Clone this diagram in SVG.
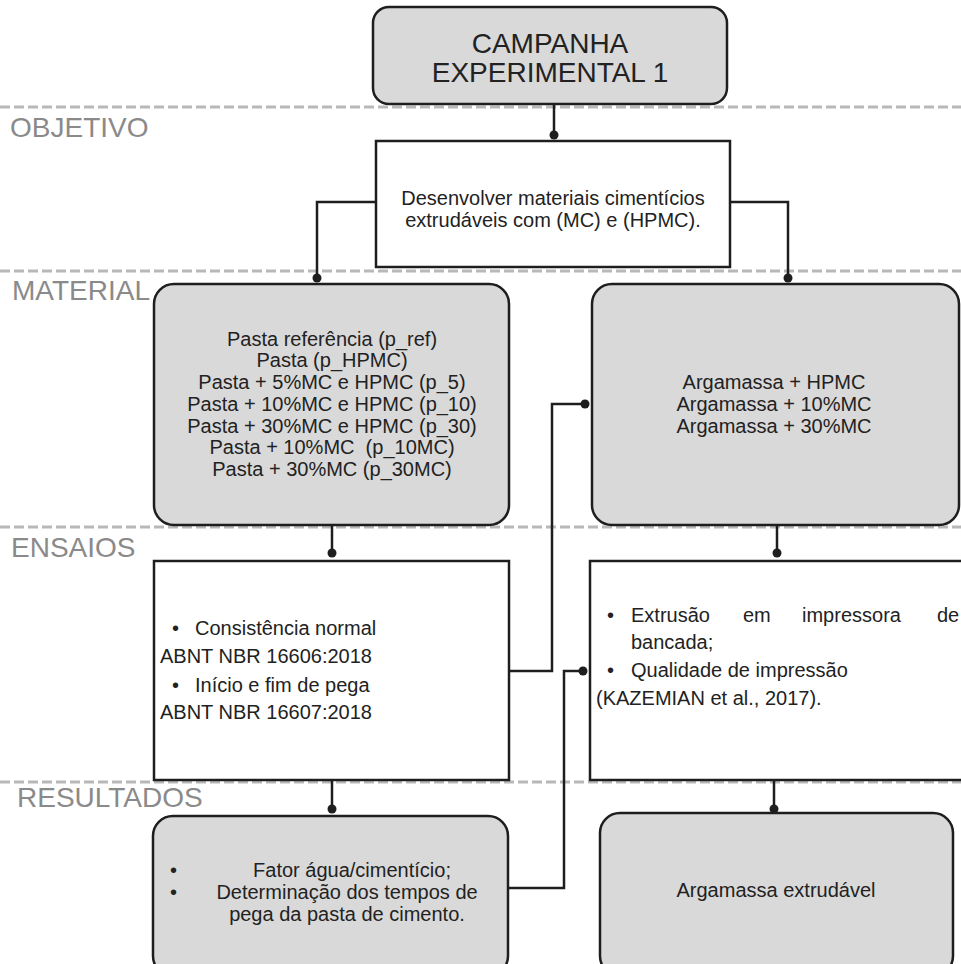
<svg xmlns="http://www.w3.org/2000/svg" width="961" height="964" viewBox="0 0 961 964">
  <style>
    .bg { fill: #ffffff; }
    .sep { stroke: #b8b8b8; stroke-width: 3; stroke-dasharray: 10 4; fill: none; }
    .lane { font-family: "Liberation Sans", Arial, sans-serif; font-size: 28px; fill: #8a8a8a; }
    .grey { fill: #d9d9d9; stroke: #1e1e1e; stroke-width: 2.5; }
    .white { fill: #ffffff; stroke: #1e1e1e; stroke-width: 2.5; }
    .t { font-family: "Liberation Sans", Arial, sans-serif; font-size: 20px; fill: #222222; }
    .title { font-family: "Liberation Sans", Arial, sans-serif; font-size: 28px; fill: #222222; }
    .c { text-anchor: middle; }
    .wire { stroke: #1e1e1e; stroke-width: 2.5; fill: none; }
    .dot { fill: #1e1e1e; }
  </style>

  <rect class="bg" x="0" y="0" width="961" height="964"/>

  <!-- lane separators and lane titles -->
  <g id="lanes">
    <line class="sep" x1="0" y1="107" x2="961" y2="107"/>
    <line class="sep" x1="0" y1="271" x2="961" y2="271"/>
    <line class="sep" x1="0" y1="527" x2="961" y2="527"/>
    <line class="sep" x1="0" y1="782" x2="961" y2="782"/>
    <text class="lane" x="10" y="137">OBJETIVO</text>
    <text class="lane" x="12" y="300">MATERIAL</text>
    <text class="lane" x="11" y="557">ENSAIOS</text>
    <text class="lane" x="17" y="807">RESULTADOS</text>
  </g>

  <!-- connectors -->
  <g id="connectors">
    <path class="wire" d="M554,104 V135"/>
    <circle class="dot" cx="554" cy="135" r="4.5"/>
    <path class="wire" d="M376,202 H317 V278"/>
    <circle class="dot" cx="317" cy="278" r="4.5"/>
    <path class="wire" d="M730,202 H788 V278"/>
    <circle class="dot" cx="788" cy="278" r="4.5"/>
    <path class="wire" d="M332,525 V553"/>
    <circle class="dot" cx="332" cy="553" r="4.5"/>
    <path class="wire" d="M777,525 V553"/>
    <circle class="dot" cx="777" cy="553" r="4.5"/>
    <path class="wire" d="M509,671 H552 V404 H585"/>
    <circle class="dot" cx="585" cy="404" r="4.5"/>
    <path class="wire" d="M508,888 H564 V671 H583"/>
    <circle class="dot" cx="583" cy="671" r="4.5"/>
    <path class="wire" d="M332,780 V809"/>
    <circle class="dot" cx="332" cy="809" r="4.5"/>
    <path class="wire" d="M774,780 V809"/>
    <circle class="dot" cx="774" cy="809" r="4.5"/>
  </g>

  <g id="campanha">
    <rect class="grey" x="373" y="7" width="354" height="97" rx="16"/>
    <text class="title c" x="550" y="53">CAMPANHA</text>
    <text class="title c" x="550" y="82">EXPERIMENTAL 1</text>
  </g>

  <g id="objetivo">
    <rect class="white" x="376" y="141" width="354" height="126"/>
    <text class="t c" x="553" y="205">Desenvolver materiais cimentícios</text>
    <text class="t c" x="553" y="227">extrudáveis com (MC) e (HPMC).</text>
  </g>

  <g id="material-pasta">
    <rect class="grey" x="154" y="284" width="355" height="241" rx="20"/>
    <text class="t c" x="332" y="346">Pasta referência (p_ref)</text>
    <text class="t c" x="332" y="367">Pasta (p_HPMC)</text>
    <text class="t c" x="332" y="389">Pasta + 5%MC e HPMC (p_5)</text>
    <text class="t c" x="332" y="411">Pasta + 10%MC e HPMC (p_10)</text>
    <text class="t c" x="332" y="433">Pasta + 30%MC e HPMC (p_30)</text>
    <text class="t c" x="332" y="454" xml:space="preserve">Pasta + 10%MC  (p_10MC)</text>
    <text class="t c" x="332" y="476">Pasta + 30%MC (p_30MC)</text>
  </g>

  <g id="material-argamassa">
    <rect class="grey" x="592" y="284" width="367" height="241" rx="20"/>
    <text class="t c" x="774" y="389">Argamassa + HPMC</text>
    <text class="t c" x="774" y="411">Argamassa + 10%MC</text>
    <text class="t c" x="774" y="433">Argamassa + 30%MC</text>
  </g>

  <g id="ensaios-pasta">
    <rect class="white" x="154" y="561" width="355" height="219"/>
    <text class="t" x="172" y="635">•</text>
    <text class="t" x="195" y="635">Consistência normal</text>
    <text class="t" x="160" y="663">ABNT NBR 16606:2018</text>
    <text class="t" x="172" y="692">•</text>
    <text class="t" x="195" y="692">Início e fim de pega</text>
    <text class="t" x="160" y="719">ABNT NBR 16607:2018</text>
  </g>

  <g id="ensaios-argamassa">
    <rect class="white" x="590" y="561" width="380" height="219"/>
    <text class="t" x="607" y="622">•</text>
    <text class="t" x="631" y="622">Extrusão</text>
    <text class="t" x="743" y="622">em</text>
    <text class="t" x="802" y="622">impressora</text>
    <text class="t" x="937" y="622">de</text>
    <text class="t" x="631" y="649">bancada;</text>
    <text class="t" x="607" y="677">•</text>
    <text class="t" x="631" y="677">Qualidade de impressão</text>
    <text class="t" x="596" y="705">(KAZEMIAN et al., 2017).</text>
  </g>

  <g id="resultados-pasta">
    <rect class="grey" x="153" y="816" width="355" height="160" rx="20"/>
    <text class="t" x="170" y="877">•</text>
    <text class="t" x="170" y="899">•</text>
    <text class="t c" x="352" y="877">Fator água/cimentício;</text>
    <text class="t c" x="347" y="899">Determinação dos tempos de</text>
    <text class="t c" x="347" y="921">pega da pasta de cimento.</text>
  </g>

  <g id="resultados-argamassa">
    <rect class="grey" x="600" y="813" width="353" height="163" rx="20"/>
    <text class="t c" x="776" y="897">Argamassa extrudável</text>
  </g>
</svg>
